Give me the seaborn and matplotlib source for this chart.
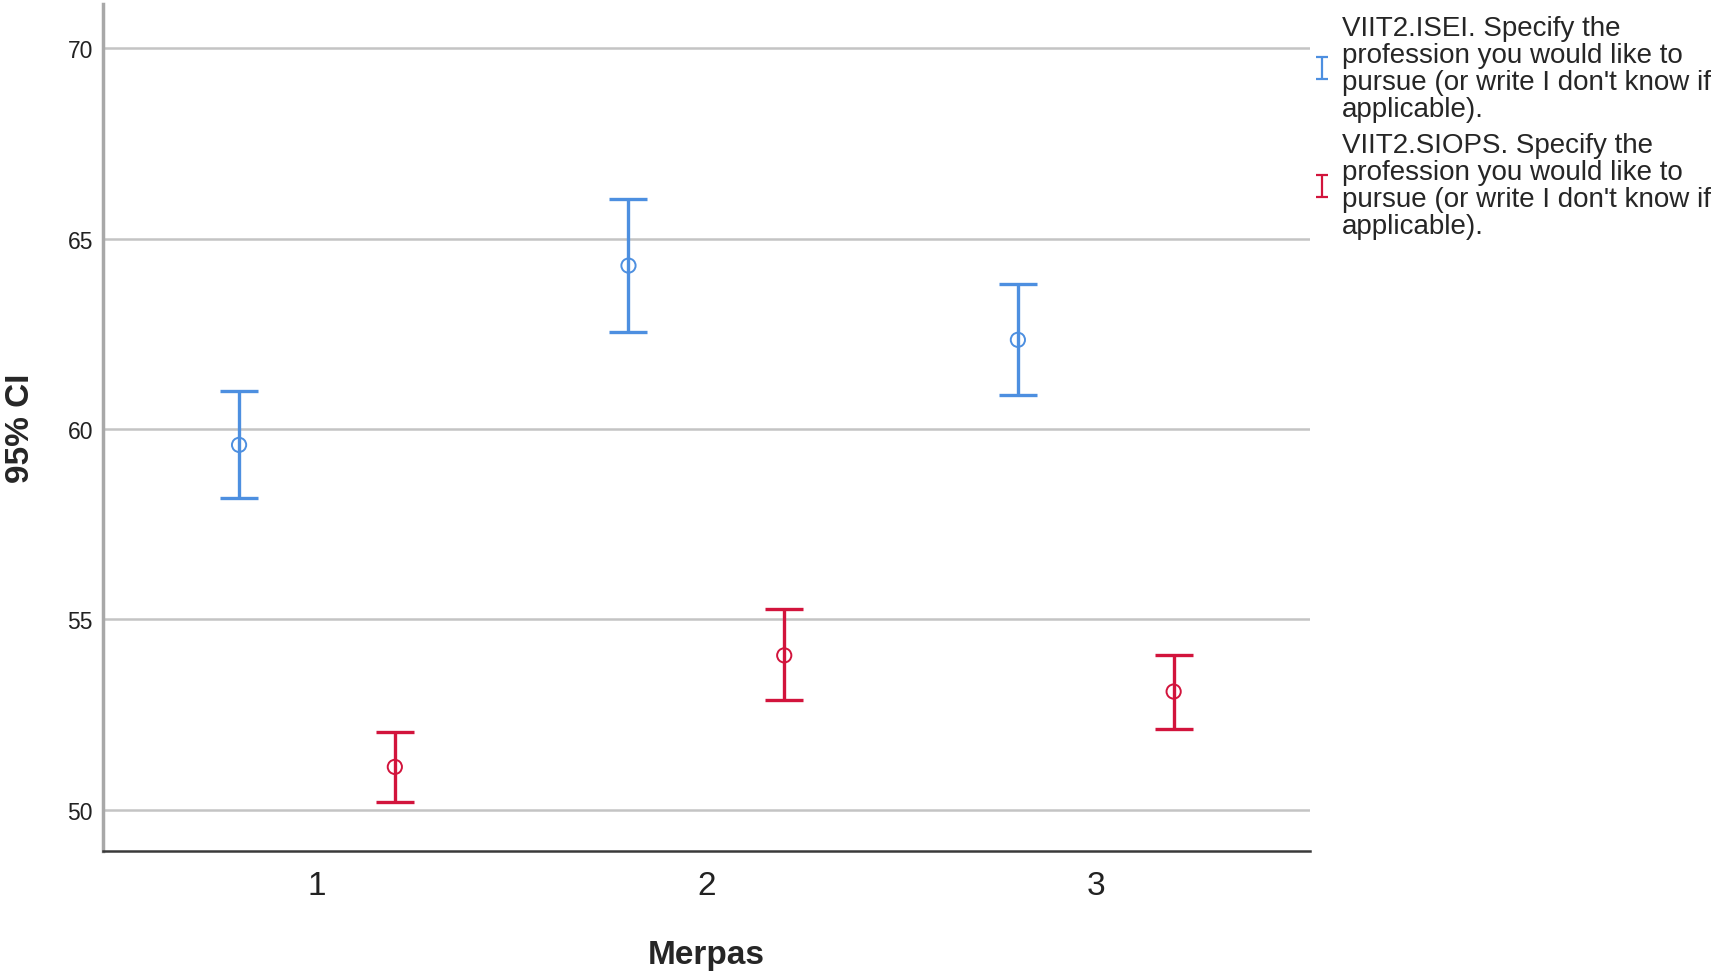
import numpy as np
import pandas as pd
import matplotlib
matplotlib.use('Agg')
import matplotlib.pyplot as plt
import seaborn as sns
from matplotlib.path import Path
from matplotlib.lines import Line2D

# groups on the x axis
groups = ['1', '2', '3']

# means and 95% CI bounds
isei_mean = [59.58, 64.29, 62.34]
isei_lo = [58.18, 62.54, 60.88]
isei_hi = [60.99, 66.04, 63.80]

siops_mean = [51.12, 54.05, 53.10]
siops_lo = [50.20, 52.87, 52.12]
siops_hi = [52.04, 55.28, 54.07]

series_labels = [
    "VIIT2.ISEI. Specify the\nprofession you would like to\npursue (or write I don't know if\napplicable).",
    "VIIT2.SIOPS. Specify the\nprofession you would like to\npursue (or write I don't know if\napplicable).",
]
colors = ['#4D8FE0', '#D2143C']
y_ticks = [50, 55, 60, 65, 70]

rows = []
for k, (m, lo, hi) in enumerate([(isei_mean, isei_lo, isei_hi), (siops_mean, siops_lo, siops_hi)]):
    for i, g in enumerate(groups):
        rows.append({'group': g, 'series': series_labels[k], 'mean': m[i], 'lo': lo[i], 'hi': hi[i],
                     'pos': i + (-0.2 if k == 0 else 0.2)})
df = pd.DataFrame(rows)

sns.set_style('white')
plt.rcParams['font.family'] = ['Liberation Sans', 'DejaVu Sans']

fig = plt.figure(figsize=(17.13, 9.78), dpi=100)
ax = fig.add_axes([0.060, 0.1288, 0.7047, 0.8656])

for k, lab in enumerate(series_labels):
    sub = df[df['series'] == lab]
    ax.errorbar(sub['pos'], sub['mean'],
                yerr=[sub['mean'] - sub['lo'], sub['hi'] - sub['mean']],
                fmt='none', ecolor=colors[k], elinewidth=2.4, capsize=14, capthick=2.4, zorder=3)
    sns.scatterplot(data=sub, x='pos', y='mean', ax=ax, s=105, marker='o',
                    facecolor='none', edgecolor=colors[k], linewidth=1.4, zorder=4, legend=False)

ax.set_xlim(-0.55, 2.55)
ax.set_ylim(48.91, 71.15)
ax.set_xticks(range(len(groups)))
ax.set_xticklabels(groups)
ax.set_yticks(y_ticks)
ax.yaxis.grid(True, color='#c4c4c4', linewidth=1.8)
ax.set_axisbelow(True)
ax.tick_params(axis='x', length=0, labelsize=24, pad=14, labelcolor='#222222')
ax.tick_params(axis='y', length=0, labelsize=16.5, pad=7, labelcolor='#222222')

for s in ['top', 'right']:
    ax.spines[s].set_visible(False)
ax.spines['left'].set_color('#a8a8a8')
ax.spines['left'].set_linewidth(2.5)
ax.spines['bottom'].set_color('#3a3a3a')
ax.spines['bottom'].set_linewidth(1.8)

ax.set_xlabel('Merpas', fontsize=24, fontweight='bold', labelpad=27)
ax.set_ylabel('95% CI', fontsize=24, fontweight='bold', labelpad=23)

# legend handles shaped like a small error bar
ibar = Path([(-0.5, -1), (0.5, -1), (0, -1), (0, 1), (-0.5, 1), (0.5, 1)],
            [Path.MOVETO, Path.LINETO, Path.MOVETO, Path.LINETO, Path.MOVETO, Path.LINETO])
handles = [Line2D([], [], linestyle='none', marker=ibar, markersize=16, markeredgewidth=1.6,
                  markerfacecolor='none', markeredgecolor=c) for c in colors]
fig.legend(handles, series_labels, loc='upper left', bbox_to_anchor=(0.768, 0.984),
           frameon=False, fontsize=20, handlelength=0.45, handletextpad=0.5,
           labelspacing=0.38, borderaxespad=0, borderpad=0)
for t in fig.legends[0].get_texts():
    t.set_linespacing(1.05)

fig.savefig('out.png', dpi=100)
